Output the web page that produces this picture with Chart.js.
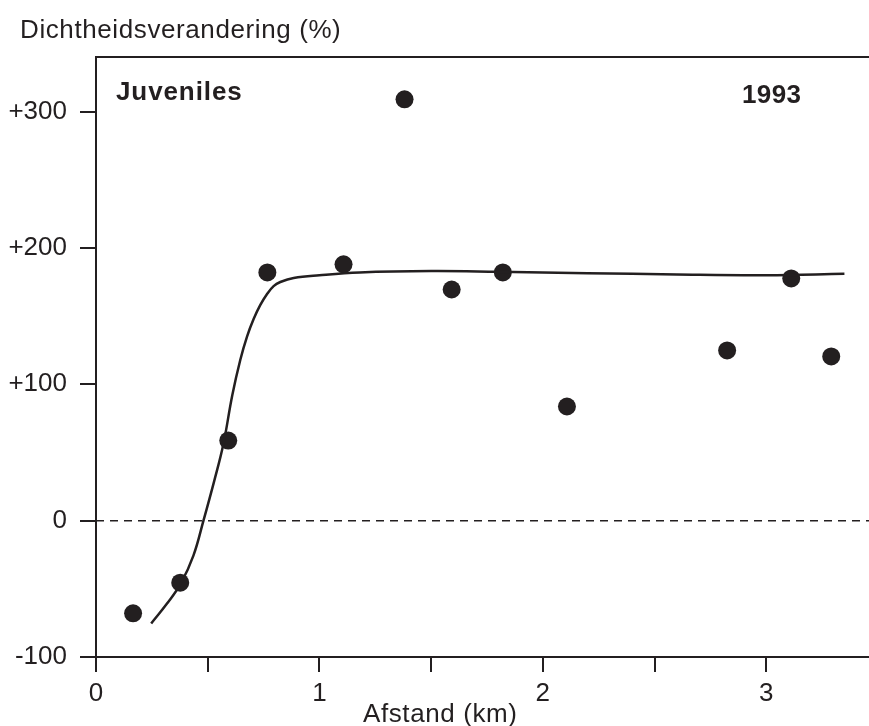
<!DOCTYPE html>
<html>
<head>
<meta charset="utf-8">
<script src="https://cdn.jsdelivr.net/npm/chart.js@4.4.1/dist/chart.umd.min.js"></script>
<style>
  html, body { margin: 0; padding: 0; background: #ffffff; }
  #wrap { width: 869px; height: 726px; }
</style>
</head>
<body>
<div id="wrap"><canvas id="chart" width="869" height="726"></canvas></div>
<script>
// Measured density change of juveniles against distance (1993)
const distanceKm    = [0.166, 0.377, 0.592, 0.767, 1.108, 1.381, 1.592, 1.821, 2.108, 2.825, 3.112, 3.291];
const densityChange = [-68, -45.5, 58.7, 182, 188, 309, 169.5, 182, 83.7, 124.8, 177.6, 120.4];

// Fitted response curve
const fitKm     = [0.247, 0.317, 0.38, 0.436, 0.481, 0.529, 0.57, 0.61, 0.646, 0.676, 0.706, 0.735, 0.765, 0.795, 0.825, 0.885, 1.0, 1.18, 1.5, 1.8, 2.2, 2.6, 3.0, 3.35];
const fitChange = [-75.4, -61, -46, -25.7, 0, 29, 56, 92, 118, 135, 148, 158, 166, 172, 175, 178, 180, 182, 183, 182.5, 181.5, 180.5, 180, 181];

// Reference line at zero change
const zeroKm     = [0, 3.46];
const zeroChange = [0, 0];

// Axis ticks
const xTickValues = [0, 1, 2, 3];
const xTickLabels = ['0', '1', '2', '3'];
const yTickValues = [-100, 0, 100, 200, 300];
const yTickLabels = ['-100', '0', '+100', '+200', '+300'];

const yTitle = 'Dichtheidsverandering (%)';
const xTitle = 'Afstand (km)';
const panelLabel = 'Juveniles';
const yearLabel = '1993';

const INK = '#231f20';
const FONT = '"Liberation Sans", Arial, Helvetica, sans-serif';

const toPoints = (xs, ys) => xs.map((x, i) => ({ x, y: ys[i] }));

const annotations = {
  id: 'annotations',
  afterDraw(chart) {
    const { ctx, chartArea } = chart;
    ctx.save();
    // frame line along the top of the plot
    ctx.strokeStyle = INK;
    ctx.lineWidth = 2;
    ctx.beginPath();
    ctx.moveTo(chartArea.left - 1, chartArea.top);
    ctx.lineTo(chartArea.right, chartArea.top);
    ctx.stroke();

    ctx.fillStyle = INK;
    ctx.textBaseline = 'alphabetic';
    ctx.textAlign = 'left';
    ctx.font = '26px ' + FONT;
    ctx.letterSpacing = '0.6px';
    ctx.fillText(yTitle, 20, 38);
    ctx.fillText(xTitle, 363, 722);
    ctx.font = 'bold 26px ' + FONT;
    ctx.letterSpacing = '0.9px';
    ctx.fillText(panelLabel, 116, 100);
    ctx.letterSpacing = '0.4px';
    ctx.fillText(yearLabel, 742, 103);
    ctx.restore();
  }
};

new Chart(document.getElementById('chart'), {
  type: 'scatter',
  data: {
    datasets: [
      {
        type: 'line',
        data: toPoints(zeroKm, zeroChange),
        borderColor: INK,
        borderWidth: 1.5,
        borderDash: [8, 6],
        pointRadius: 0,
        fill: false
      },
      {
        type: 'line',
        data: toPoints(fitKm, fitChange),
        borderColor: INK,
        borderWidth: 2.5,
        tension: 0.4,
        pointRadius: 0,
        fill: false
      },
      {
        type: 'scatter',
        data: toPoints(distanceKm, densityChange),
        backgroundColor: INK,
        borderColor: INK,
        borderWidth: 0,
        pointRadius: 9,
        pointHoverRadius: 9
      }
    ]
  },
  options: {
    responsive: false,
    devicePixelRatio: 1,
    animation: false,
    layout: { autoPadding: false, padding: { top: 57, left: 0, right: 0, bottom: 0 } },
    plugins: {
      legend: { display: false },
      tooltip: { enabled: false }
    },
    scales: {
      x: {
        type: 'linear',
        min: 0,
        max: 3.46,
        afterFit(scale) { scale.height = 69; },
        border: { display: true, color: INK, width: 2 },
        grid: {
          drawOnChartArea: false,
          drawTicks: true,
          tickLength: 15,
          color: INK,
          lineWidth: 2
        },
        ticks: {
          stepSize: 0.5,
          includeBounds: false,
          autoSkip: false,
          maxRotation: 0,
          padding: 6,
          color: INK,
          font: { family: FONT, size: 26 },
          callback(v) {
            const i = xTickValues.indexOf(v);
            return i >= 0 ? xTickLabels[i] : '';
          }
        }
      },
      y: {
        type: 'linear',
        min: -100,
        max: 340,
        afterFit(scale) { scale.width = 96; },
        border: { display: true, color: INK, width: 2 },
        grid: {
          drawOnChartArea: false,
          drawTicks: true,
          tickLength: 16,
          color: INK,
          lineWidth: 2
        },
        ticks: {
          stepSize: 100,
          includeBounds: false,
          padding: 13,
          color: INK,
          font: { family: FONT, size: 26 },
          callback(v) {
            const i = yTickValues.indexOf(v);
            return i >= 0 ? yTickLabels[i] : '';
          }
        }
      }
    }
  },
  plugins: [annotations]
});
</script>
</body>
</html>
